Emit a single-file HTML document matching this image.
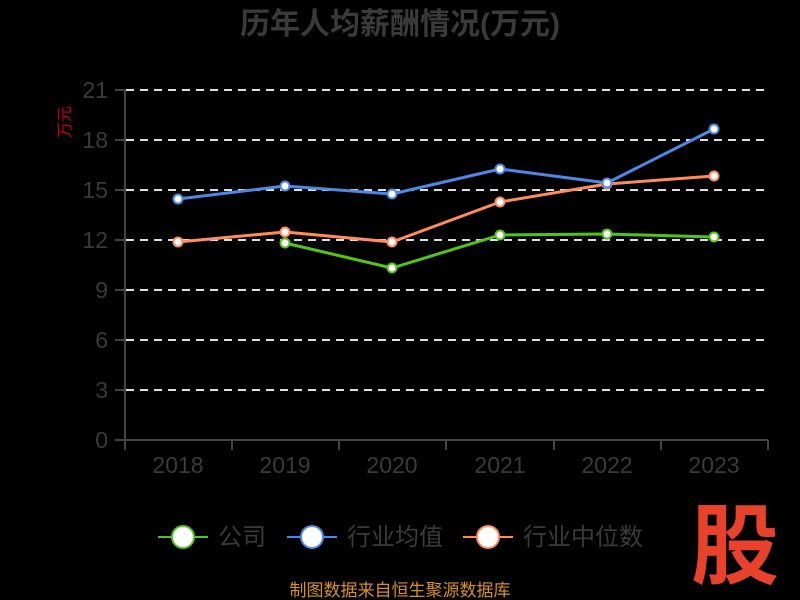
<!DOCTYPE html>
<html><head><meta charset="utf-8"><style>
html,body{margin:0;padding:0;background:#000;}
svg{display:block;font-family:"Liberation Sans","Noto Sans CJK SC",sans-serif;}
</style></head><body>
<svg width="800" height="600" viewBox="0 0 800 600">
<rect width="800" height="600" fill="#000"/>
<text x="400" y="34" text-anchor="middle" font-size="30" font-weight="bold" fill="#3a3a3a">历年人均薪酬情况(万元)</text>
<text transform="translate(70,122) rotate(-90)" text-anchor="middle" font-size="16" fill="#c00">万元</text>
<g stroke="#ddd" stroke-width="2" stroke-dasharray="8,6">
<line x1="126" y1="90" x2="768" y2="90"/><line x1="126" y1="140" x2="768" y2="140"/>
<line x1="126" y1="190" x2="768" y2="190"/><line x1="126" y1="240" x2="768" y2="240"/>
<line x1="126" y1="290" x2="768" y2="290"/><line x1="126" y1="340" x2="768" y2="340"/>
<line x1="126" y1="390" x2="768" y2="390"/>
</g>
<g stroke="#444" stroke-width="2">
<line x1="125" y1="90" x2="125" y2="441"/><line x1="124" y1="440" x2="768" y2="440"/>
<line x1="115" y1="90" x2="125" y2="90"/><line x1="115" y1="140" x2="125" y2="140"/>
<line x1="115" y1="190" x2="125" y2="190"/><line x1="115" y1="240" x2="125" y2="240"/>
<line x1="115" y1="290" x2="125" y2="290"/><line x1="115" y1="340" x2="125" y2="340"/>
<line x1="115" y1="390" x2="125" y2="390"/><line x1="115" y1="440" x2="125" y2="440"/>
<line x1="125" y1="440" x2="125" y2="450"/><line x1="232" y1="440" x2="232" y2="450"/>
<line x1="339" y1="440" x2="339" y2="450"/><line x1="446" y1="440" x2="446" y2="450"/>
<line x1="554" y1="440" x2="554" y2="450"/><line x1="661" y1="440" x2="661" y2="450"/>
<line x1="768" y1="440" x2="768" y2="450"/>
</g>
<g font-size="23" fill="#3a3a3a" text-anchor="end">
<text x="108" y="98">21</text><text x="108" y="148">18</text><text x="108" y="198">15</text>
<text x="108" y="248">12</text><text x="108" y="298">9</text><text x="108" y="348">6</text>
<text x="108" y="398">3</text><text x="108" y="448">0</text>
</g>
<g font-size="23" fill="#3a3a3a" text-anchor="middle">
<text x="178" y="473">2018</text><text x="285" y="473">2019</text><text x="392" y="473">2020</text>
<text x="500" y="473">2021</text><text x="607" y="473">2022</text><text x="714" y="473">2023</text>
</g>
<g fill="none" stroke-width="3" stroke-linejoin="round">
<polyline stroke="#52c41a" points="285,243 392,268 500,235 607,234 714,237"/>
<polyline stroke="#ff8c5a" points="178,242 285,232 392,242 500,202 607,184 714,176"/>
<polyline stroke="#4e88e6" points="178,199 285,186 392,194 500,169 607,183 714,129"/>
</g>
<g fill="#fff" stroke-width="2">
<g stroke="#52c41a"><circle cx="285" cy="243" r="4.5"/><circle cx="392" cy="268" r="4.5"/><circle cx="500" cy="235" r="4.5"/><circle cx="607" cy="234" r="4.5"/><circle cx="714" cy="237" r="4.5"/></g>
<g stroke="#ff8c5a"><circle cx="178" cy="242" r="4.5"/><circle cx="285" cy="232" r="4.5"/><circle cx="392" cy="242" r="4.5"/><circle cx="500" cy="202" r="4.5"/><circle cx="607" cy="184" r="4.5"/><circle cx="714" cy="176" r="4.5"/></g>
<g stroke="#4e88e6"><circle cx="178" cy="199" r="4.5"/><circle cx="285" cy="186" r="4.5"/><circle cx="392" cy="194" r="4.5"/><circle cx="500" cy="169" r="4.5"/><circle cx="607" cy="183" r="4.5"/><circle cx="714" cy="129" r="4.5"/></g>
</g>
<g stroke-width="2">
<line x1="158" y1="537" x2="208" y2="537" stroke="#52c41a"/><circle cx="183" cy="537" r="11" fill="#fff" stroke="#52c41a"/>
<line x1="287" y1="537" x2="337" y2="537" stroke="#4e88e6"/><circle cx="312" cy="537" r="11" fill="#fff" stroke="#4e88e6"/>
<line x1="463" y1="537" x2="513" y2="537" stroke="#ff8c5a"/><circle cx="488" cy="537" r="11" fill="#fff" stroke="#ff8c5a"/>
</g>
<g font-size="24" fill="#3a3a3a">
<text x="218" y="545">公司</text><text x="347" y="545">行业均值</text><text x="523" y="545">行业中位数</text>
</g>
<text x="400" y="596" text-anchor="middle" font-size="17" fill="#d9921e">制图数据来自恒生聚源数据库</text>
<text x="735" y="577" text-anchor="middle" font-size="88" font-weight="bold" fill="#e8412c">股</text>
</svg>
</body></html>
